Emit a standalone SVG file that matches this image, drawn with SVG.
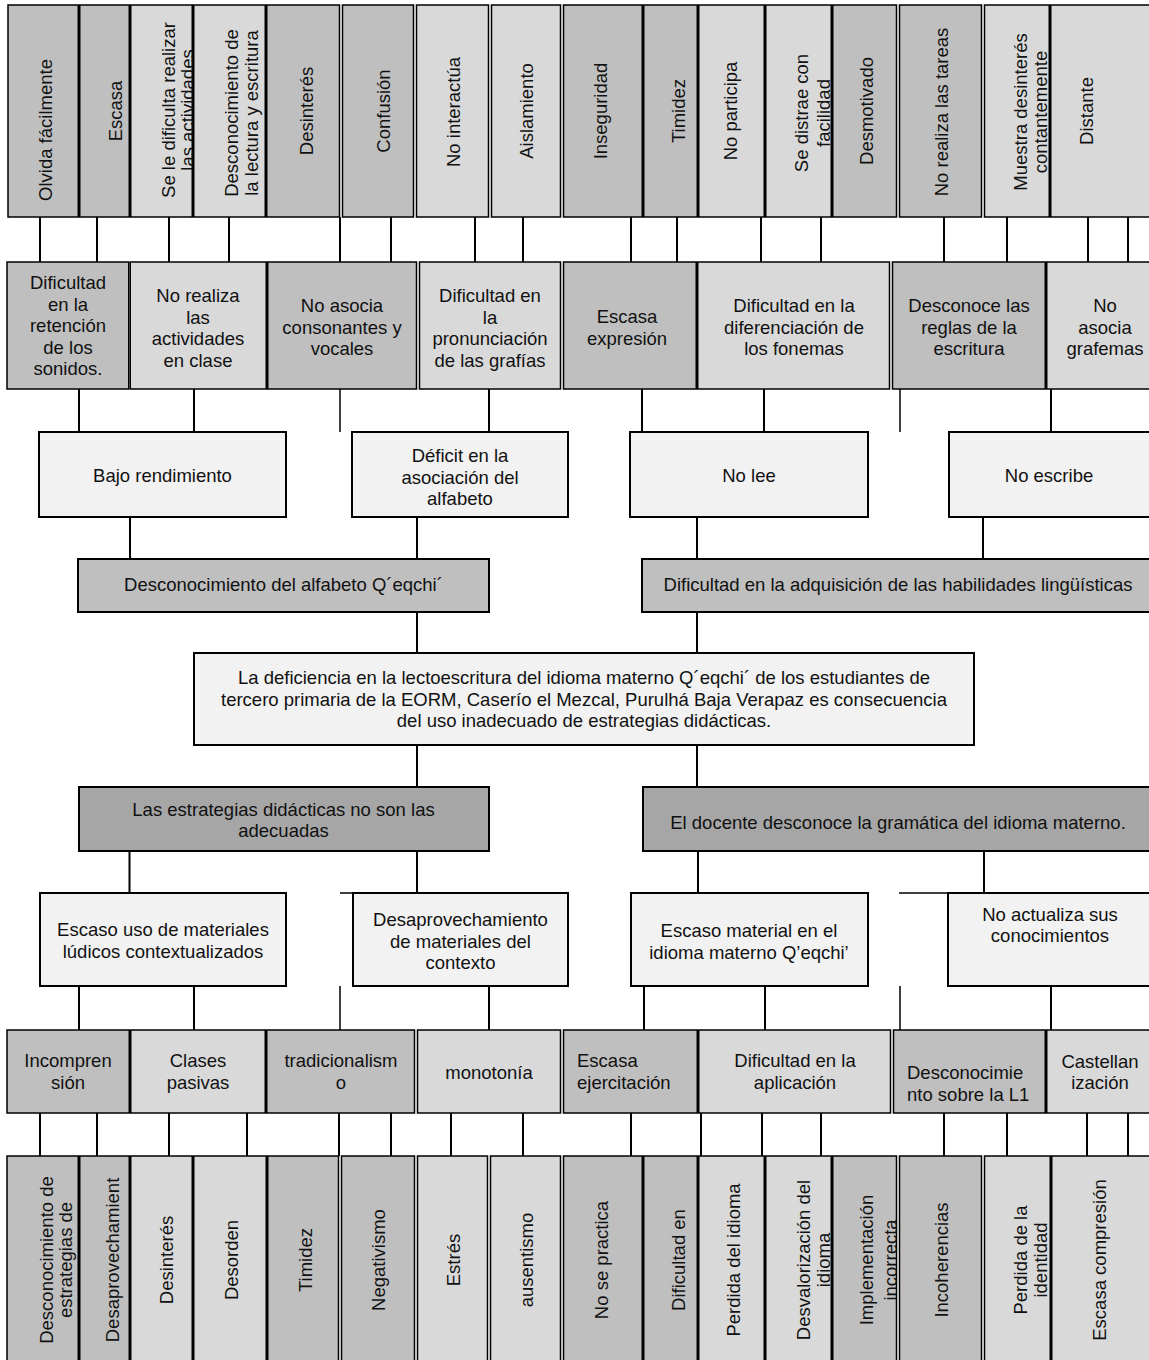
<svg xmlns="http://www.w3.org/2000/svg" width="1149" height="1360" viewBox="0 0 1149 1360">
<style>
.c{stroke:#000;stroke-width:1.5}
.b{stroke:#000;stroke-width:2}
.dk{fill:#bfbfbf}.lt{fill:#d9d9d9}.wh{fill:#f2f2f2}.md{fill:#a6a6a6}
text{font-family:"Liberation Sans",Arial,Helvetica,sans-serif;font-size:18.5px;fill:#111;text-anchor:middle}
text.l{text-anchor:start}
#connectors line{stroke:#000;stroke-width:2}
#connectors line.thin{stroke-width:1.5}
</style>
<rect x="0" y="0" width="1149" height="1360" fill="#fff"/>

<g id="connectors">
<!-- top row to row 2 -->
<line x1="40" y1="217" x2="40" y2="262"/><line x1="97" y1="217" x2="97" y2="262"/>
<line x1="169" y1="217" x2="169" y2="262"/><line x1="229" y1="217" x2="229" y2="262"/>
<line x1="340" y1="217" x2="340" y2="262"/><line x1="391" y1="217" x2="391" y2="262"/>
<line x1="475" y1="217" x2="475" y2="262"/><line x1="523" y1="217" x2="523" y2="262"/>
<line x1="631" y1="217" x2="631" y2="262"/><line x1="677" y1="217" x2="677" y2="262"/>
<line x1="761" y1="217" x2="761" y2="262"/><line x1="821" y1="217" x2="821" y2="262"/>
<line x1="944" y1="217" x2="944" y2="262"/><line x1="1007" y1="217" x2="1007" y2="262"/>
<line x1="1088" y1="217" x2="1088" y2="262"/><line x1="1128" y1="217" x2="1128" y2="262"/>
<!-- row 2 to row 3 -->
<line x1="79" y1="389" x2="79" y2="432"/><line x1="194" y1="389" x2="194" y2="432"/>
<line class="thin" x1="340" y1="389" x2="340" y2="432"/><line x1="489" y1="389" x2="489" y2="432"/>
<line x1="642" y1="389" x2="642" y2="432"/><line x1="764" y1="389" x2="764" y2="432"/>
<line class="thin" x1="900" y1="389" x2="900" y2="432"/><line x1="1051" y1="389" x2="1051" y2="432"/>
<!-- row 3 to row 4 -->
<line x1="130" y1="517" x2="130" y2="559"/><line x1="417" y1="517" x2="417" y2="559"/>
<line x1="697" y1="517" x2="697" y2="559"/><line x1="983" y1="517" x2="983" y2="559"/>
<!-- row 4 to center -->
<line x1="417" y1="612" x2="417" y2="653"/><line x1="697" y1="612" x2="697" y2="653"/>
<!-- center to row 6 -->
<line x1="417" y1="745" x2="417" y2="787"/><line x1="697" y1="745" x2="697" y2="787"/>
<!-- row 6 to row 7 -->
<line x1="129.5" y1="851" x2="129.5" y2="893"/><line x1="417" y1="851" x2="417" y2="893"/>
<line x1="698" y1="851" x2="698" y2="893"/><line x1="984" y1="851" x2="984" y2="893"/>
<line class="thin" x1="340" y1="893" x2="353" y2="893"/><line class="thin" x1="899" y1="893" x2="948" y2="893"/>
<!-- row 7 to row 8 -->
<line x1="79" y1="986" x2="79" y2="1030"/><line x1="194" y1="986" x2="194" y2="1030"/>
<line class="thin" x1="340" y1="986" x2="340" y2="1030"/><line x1="489" y1="986" x2="489" y2="1030"/>
<line x1="644" y1="986" x2="644" y2="1030"/><line x1="765" y1="986" x2="765" y2="1030"/>
<line class="thin" x1="900" y1="986" x2="900" y2="1030"/><line x1="1051" y1="986" x2="1051" y2="1030"/>
<!-- row 8 to bottom row -->
<line x1="40" y1="1113" x2="40" y2="1156"/><line x1="97" y1="1113" x2="97" y2="1156"/>
<line x1="169" y1="1113" x2="169" y2="1156"/><line x1="247" y1="1113" x2="247" y2="1156"/>
<line x1="339" y1="1113" x2="339" y2="1156"/><line x1="391" y1="1113" x2="391" y2="1156"/>
<line x1="451" y1="1113" x2="451" y2="1156"/><line x1="523" y1="1113" x2="523" y2="1156"/>
<line x1="631" y1="1113" x2="631" y2="1156"/><line x1="701" y1="1113" x2="701" y2="1156"/>
<line x1="762" y1="1113" x2="762" y2="1156"/><line x1="821" y1="1113" x2="821" y2="1156"/>
<line x1="944" y1="1113" x2="944" y2="1156"/><line x1="1007" y1="1113" x2="1007" y2="1156"/>
<line x1="1087" y1="1113" x2="1087" y2="1156"/><line x1="1128" y1="1113" x2="1128" y2="1156"/>
</g>

<!-- TOP ROW -->
<g id="t1"><rect class="c dk" x="8" y="5" width="70.25" height="212"/><text transform="translate(51.5,130) rotate(-90)">Olvida fácilmente</text></g>
<g id="t2"><rect class="c dk" x="79.75" y="5" width="49.5" height="212"/><text transform="translate(121.5,111) rotate(-90)">Escasa</text></g>
<g id="t3"><rect class="c lt" x="130.75" y="5" width="61.5" height="212"/><text transform="translate(175,110) rotate(-90)">Se le dificulta realizar</text><text transform="translate(194,110) rotate(-90)">las actividades</text></g>
<g id="t4"><rect class="c lt" x="193.75" y="5" width="71.5" height="212"/><text transform="translate(238,113) rotate(-90)">Desconocimiento de</text><text transform="translate(258,113) rotate(-90)">la lectura y escritura</text></g>
<g id="t5"><rect class="c dk" x="266.75" y="5" width="72.75" height="212"/><text transform="translate(313,111) rotate(-90)">Desinterés</text></g>
<g id="t6"><rect class="c dk" x="342.5" y="5" width="71" height="212"/><text transform="translate(390,111) rotate(-90)">Confusión</text></g>
<g id="t7"><rect class="c lt" x="416.5" y="5" width="72" height="212"/><text transform="translate(460,112) rotate(-90)">No interactúa</text></g>
<g id="t8"><rect class="c lt" x="491.5" y="5" width="69" height="212"/><text transform="translate(533,111) rotate(-90)">Aislamiento</text></g>
<g id="t9"><rect class="c dk" x="563.5" y="5" width="78.75" height="212"/><text transform="translate(607,111) rotate(-90)">Inseguridad</text></g>
<g id="t10"><rect class="c dk" x="643.75" y="5" width="53.5" height="212"/><text transform="translate(685,111) rotate(-90)">Timidez</text></g>
<g id="t11"><rect class="c lt" x="698.75" y="5" width="65.5" height="212"/><text transform="translate(737,111) rotate(-90)">No participa</text></g>
<g id="t12"><rect class="c lt" x="765.75" y="5" width="65.5" height="212"/><text transform="translate(808,113) rotate(-90)">Se distrae con</text><text transform="translate(830,113) rotate(-90)">facilidad</text></g>
<g id="t13"><rect class="c dk" x="832.75" y="5" width="63.75" height="212"/><text transform="translate(873,111) rotate(-90)">Desmotivado</text></g>
<g id="t14"><rect class="c dk" x="899.5" y="5" width="82" height="212"/><text transform="translate(948,112) rotate(-90)">No realiza las tareas</text></g>
<g id="t15"><rect class="c lt" x="984.5" y="5" width="64.75" height="212"/><text transform="translate(1027,112) rotate(-90)">Muestra desinterés</text><text transform="translate(1047,112) rotate(-90)">contantemente</text></g>
<g id="t16"><rect class="c lt" x="1050.75" y="5" width="111.25" height="212"/><text transform="translate(1093,111) rotate(-90)">Distante</text></g>

<!-- ROW 2 -->
<g id="r2-1"><rect class="c dk" x="7" y="262" width="121.75" height="127"/><text x="68" y="289">Dificultad</text><text x="68" y="310.5">en la</text><text x="68" y="332">retención</text><text x="68" y="353.5">de los</text><text x="68" y="375">sonidos.</text></g>
<g id="r2-2"><rect class="c lt" x="130.25" y="262" width="136" height="127"/><text x="198" y="302">No realiza</text><text x="198" y="323.5">las</text><text x="198" y="345">actividades</text><text x="198" y="366.5">en clase</text></g>
<g id="r2-3"><rect class="c dk" x="267.75" y="262" width="148.75" height="127"/><text x="342" y="312">No asocia</text><text x="342" y="333.5">consonantes y</text><text x="342" y="355">vocales</text></g>
<g id="r2-4"><rect class="c lt" x="419.5" y="262" width="141" height="127"/><text x="490" y="302">Dificultad en</text><text x="490" y="323.5">la</text><text x="490" y="345">pronunciación</text><text x="490" y="366.5">de las grafías</text></g>
<g id="r2-5"><rect class="c dk" x="563.5" y="262" width="132.75" height="127"/><text x="627" y="323">Escasa</text><text x="627" y="344.5">expresión</text></g>
<g id="r2-6"><rect class="c lt" x="697.75" y="262" width="191.75" height="127"/><text x="794" y="312">Dificultad en la</text><text x="794" y="333.5">diferenciación de</text><text x="794" y="355">los fonemas</text></g>
<g id="r2-7"><rect class="c dk" x="892.5" y="262" width="152.75" height="127"/><text x="969" y="312">Desconoce las</text><text x="969" y="333.5">reglas de la</text><text x="969" y="355">escritura</text></g>
<g id="r2-8"><rect class="c lt" x="1046.75" y="262" width="115.25" height="127"/><text x="1105" y="312">No</text><text x="1105" y="333.5">asocia</text><text x="1105" y="355">grafemas</text></g>

<!-- ROW 3 -->
<g id="bajo"><rect class="b wh" x="39" y="432" width="247" height="85"/><text x="162.5" y="482">Bajo rendimiento</text></g>
<g id="deficit"><rect class="b wh" x="352" y="432" width="216" height="85"/><text x="460" y="462">Déficit en la</text><text x="460" y="483.5">asociación del</text><text x="460" y="505">alfabeto</text></g>
<g id="nolee"><rect class="b wh" x="630" y="432" width="238" height="85"/><text x="749" y="482">No lee</text></g>
<g id="noescribe"><rect class="b wh" x="949" y="432" width="210" height="85"/><text x="1049" y="482">No escribe</text></g>

<!-- ROW 4 -->
<g id="desc-alfabeto"><rect class="b dk" x="78" y="559" width="411" height="53"/><text x="283.5" y="591">Desconocimiento del alfabeto Q´eqchi´</text></g>
<g id="dif-adq"><rect class="b dk" x="642" y="559" width="517" height="53"/><text x="898" y="591">Dificultad en la adquisición de las habilidades lingüísticas</text></g>

<!-- CENTER -->
<g id="problema"><rect class="b wh" x="194" y="653" width="780" height="92"/><text x="584" y="684">La deficiencia en la lectoescritura del idioma materno Q´eqchi´ de los estudiantes de</text><text x="584" y="705.5">tercero primaria de la EORM, Caserío el Mezcal, Purulhá Baja Verapaz es consecuencia</text><text x="584" y="727">del uso inadecuado de estrategias didácticas.</text></g>

<!-- ROW 6 -->
<g id="estrategias"><rect class="b md" x="79" y="787" width="410" height="64"/><text x="283.5" y="816">Las estrategias didácticas no son las</text><text x="283.5" y="837">adecuadas</text></g>
<g id="docente"><rect class="b md" x="643" y="787" width="516" height="64"/><text x="898" y="829">El docente desconoce la gramática del idioma materno.</text></g>

<!-- ROW 7 -->
<g id="escaso-uso"><rect class="b wh" x="40" y="893" width="246" height="93"/><text x="163" y="936">Escaso uso de materiales</text><text x="163" y="958">lúdicos contextualizados</text></g>
<g id="desaprov"><rect class="b wh" x="353" y="893" width="215" height="93"/><text x="460.5" y="926">Desaprovechamiento</text><text x="460.5" y="947.5">de materiales del</text><text x="460.5" y="969">contexto</text></g>
<g id="escaso-material"><rect class="b wh" x="631" y="893" width="237" height="93"/><text x="749" y="937">Escaso material en el</text><text x="749" y="958.5">idioma materno Q’eqchi’</text></g>
<g id="no-actualiza"><rect class="b wh" x="948" y="893" width="211" height="93"/><text x="1050" y="921">No actualiza sus</text><text x="1050" y="942">conocimientos</text></g>

<!-- ROW 8 -->
<g id="r8-1"><rect class="c dk" x="7" y="1030" width="122.25" height="83"/><text x="68" y="1067">Incompren</text><text x="68" y="1089">sión</text></g>
<g id="r8-2"><rect class="c lt" x="130.75" y="1030" width="134.5" height="83"/><text x="198" y="1067">Clases</text><text x="198" y="1089">pasivas</text></g>
<g id="r8-3"><rect class="c dk" x="266.75" y="1030" width="147.75" height="83"/><text x="341" y="1067">tradicionalism</text><text x="341" y="1089">o</text></g>
<g id="r8-4"><rect class="c lt" x="417.5" y="1030" width="143" height="83"/><text x="489" y="1079">monotonía</text></g>
<g id="r8-5"><rect class="c dk" x="563.5" y="1030" width="133.75" height="83"/><text class="l" x="577" y="1067">Escasa</text><text class="l" x="577" y="1089">ejercitación</text></g>
<g id="r8-6"><rect class="c lt" x="698.75" y="1030" width="191.75" height="83"/><text x="795" y="1067">Dificultad en la</text><text x="795" y="1089">aplicación</text></g>
<g id="r8-7"><rect class="c dk" x="893.5" y="1030" width="151.75" height="83"/><text class="l" x="907" y="1079">Desconocimie</text><text class="l" x="907" y="1101">nto sobre la L1</text></g>
<g id="r8-8"><rect class="c lt" x="1046.75" y="1030" width="115.25" height="83"/><text x="1100" y="1068">Castellan</text><text x="1100" y="1089">ización</text></g>

<!-- BOTTOM ROW -->
<g id="b1"><rect class="c dk" x="7" y="1156" width="71.25" height="210"/><text transform="translate(53,1260) rotate(-90)">Desconocimiento de</text><text transform="translate(72,1260) rotate(-90)">estrategias de</text></g>
<g id="b2"><rect class="c dk" x="79.75" y="1156" width="49.5" height="210"/><text transform="translate(119,1260) rotate(-90)">Desaprovechamient</text></g>
<g id="b3"><rect class="c lt" x="130.75" y="1156" width="61.5" height="210"/><text transform="translate(173,1260) rotate(-90)">Desinterés</text></g>
<g id="b4"><rect class="c lt" x="193.75" y="1156" width="72.5" height="210"/><text transform="translate(238,1260) rotate(-90)">Desorden</text></g>
<g id="b5"><rect class="c dk" x="267.75" y="1156" width="70.75" height="210"/><text transform="translate(312,1260) rotate(-90)">Timidez</text></g>
<g id="b6"><rect class="c dk" x="341.5" y="1156" width="73" height="210"/><text transform="translate(385,1260) rotate(-90)">Negativismo</text></g>
<g id="b7"><rect class="c lt" x="417.5" y="1156" width="70" height="210"/><text transform="translate(460,1260) rotate(-90)">Estrés</text></g>
<g id="b8"><rect class="c lt" x="490.5" y="1156" width="70" height="210"/><text transform="translate(533,1260) rotate(-90)">ausentismo</text></g>
<g id="b9"><rect class="c dk" x="563.5" y="1156" width="78.75" height="210"/><text transform="translate(608,1260) rotate(-90)">No se practica</text></g>
<g id="b10"><rect class="c dk" x="643.75" y="1156" width="53.5" height="210"/><text transform="translate(685,1260) rotate(-90)">Dificultad en</text></g>
<g id="b11"><rect class="c lt" x="698.75" y="1156" width="65.5" height="210"/><text transform="translate(740,1260) rotate(-90)">Perdida del idioma</text></g>
<g id="b12"><rect class="c lt" x="765.75" y="1156" width="65.5" height="210"/><text transform="translate(810,1260) rotate(-90)">Desvalorización del</text><text transform="translate(830,1260) rotate(-90)">idioma</text></g>
<g id="b13"><rect class="c dk" x="832.75" y="1156" width="63.75" height="210"/><text transform="translate(873,1260) rotate(-90)">Implementación</text><text transform="translate(897,1260) rotate(-90)">incorrecta</text></g>
<g id="b14"><rect class="c dk" x="899.5" y="1156" width="82" height="210"/><text transform="translate(948,1260) rotate(-90)">Incoherencias</text></g>
<g id="b15"><rect class="c lt" x="984.5" y="1156" width="65.75" height="210"/><text transform="translate(1027,1260) rotate(-90)">Perdida de la</text><text transform="translate(1047,1260) rotate(-90)">identidad</text></g>
<g id="b16"><rect class="c lt" x="1051.75" y="1156" width="110.25" height="210"/><text transform="translate(1106,1260) rotate(-90)">Escasa compresión</text></g>
</svg>
